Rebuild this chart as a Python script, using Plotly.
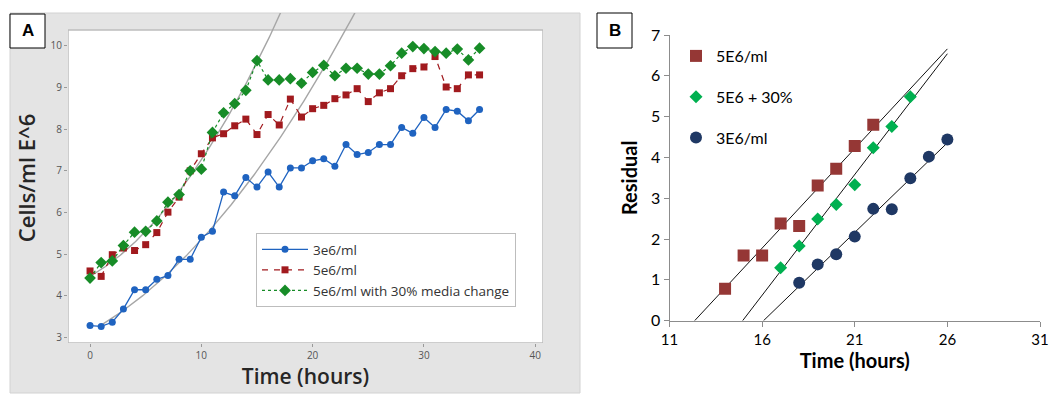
import numpy as np
import plotly.graph_objects as go

# ---------------- Panel A data ----------------
hours_a = list(range(36))
cells_3e6 = [3.29, 3.27, 3.37, 3.69, 4.15, 4.15, 4.40, 4.49, 4.88, 4.88,
             5.41, 5.55, 6.49, 6.40, 6.84, 6.61, 6.97, 6.61, 7.07, 7.07,
             7.24, 7.29, 7.11, 7.63, 7.39, 7.44, 7.63, 7.63, 8.04, 7.90,
             8.28, 8.04, 8.47, 8.43, 8.20, 8.47]
cells_5e6 = [4.60, 4.47, 4.99, 5.15, 5.09, 5.23, 5.52, 6.01, 6.37, 7.00,
             7.41, 7.79, 7.89, 8.08, 8.24, 7.87, 8.35, 8.10, 8.72, 8.29,
             8.49, 8.57, 8.73, 8.82, 8.97, 8.66, 8.87, 8.97, 9.28, 9.45,
             9.49, 9.74, 9.01, 8.97, 9.30, 9.30]
cells_5e6_30 = [4.43, 4.80, 4.84, 5.21, 5.53, 5.55, 5.80, 6.25, 6.43, 7.00,
                7.04, 7.92, 8.39, 8.61, 8.93, 9.64, 9.18, 9.18, 9.21, 9.10,
                9.36, 9.53, 9.28, 9.46, 9.46, 9.32, 9.32, 9.52, 9.82, 9.98,
                9.93, 9.86, 9.82, 9.92, 9.66, 9.94]
names_a = ["3e6/ml", "5e6/ml", "5e6/ml with 30% media change"]

# growth-curve fits: y = c0 + c1*(t-t0) + c2*(t-t0)^2
fit_5e6_coef = [4.47, 0.153, 0.0126]
fit_5e6_span = [0, 18]
fit_3e6_coef = [3.30, 0.162, 0.0073]
fit_3e6_span = [1, 25]

# ---------------- Panel B data ----------------
hours_b_5e6 = [14, 15, 16, 17, 18, 19, 20, 21, 22]
resid_5e6 = [0.78, 1.60, 1.60, 2.38, 2.32, 3.31, 3.72, 4.28, 4.80]
hours_b_5e6_30 = [17, 18, 19, 20, 21, 22, 23, 24]
resid_5e6_30 = [1.30, 1.83, 2.49, 2.85, 3.33, 4.24, 4.76, 5.49]
hours_b_3e6 = [18, 19, 20, 21, 22, 23, 24, 25, 26]
resid_3e6 = [0.93, 1.38, 1.63, 2.06, 2.74, 2.73, 3.49, 4.02, 4.44]
names_b = ["5E6/ml", "5E6 + 30%", "3E6/ml"]
ticks_b = [11, 16, 21, 26, 31]
trend_end_b = 26

# page is offset by the 8px body margin
OFF = 8
W, H = 1057 - OFF, 394 - OFF
def px_x(p):
    return (p - OFF) / W
def px_y(p):
    return 1 - (p - OFF) / H

FONT_A = "Open Sans"
FONT_B = "Lato"
BLUE_A, RED_A, GREEN_A = "#1f63c0", "#a11a1e", "#178c27"
RED_B, GREEN_B, NAVY_B = "#953735", "#00b050", "#1f3864"
AXIS_B = "#8c8c8c"

fig = go.Figure()

# ---- Panel A traces ----
def quad_curve(coef, span):
    t = np.linspace(span[0], span[1], 200)
    d = t - span[0]
    return t, coef[0] + coef[1] * d + coef[2] * d ** 2

for coef, span in [(fit_5e6_coef, fit_5e6_span), (fit_3e6_coef, fit_3e6_span)]:
    t, y = quad_curve(coef, span)
    fig.add_trace(go.Scatter(x=t, y=y, mode="lines", showlegend=False,
                             line=dict(color="#a6a6a6", width=1.4),
                             hoverinfo="skip", xaxis="x", yaxis="y"))

fig.add_trace(go.Scatter(x=hours_a, y=cells_3e6, name=names_a[0], mode="lines+markers",
                         line=dict(color=BLUE_A, width=1.3),
                         marker=dict(symbol="circle", size=7, color=BLUE_A),
                         xaxis="x", yaxis="y", legend="legend"))
fig.add_trace(go.Scatter(x=hours_a, y=cells_5e6, name=names_a[1], mode="lines+markers",
                         line=dict(color=RED_A, width=1.2, dash="6px,6px"),
                         marker=dict(symbol="square", size=7, color=RED_A),
                         xaxis="x", yaxis="y", legend="legend"))
fig.add_trace(go.Scatter(x=hours_a, y=cells_5e6_30, name=names_a[2], mode="lines+markers",
                         line=dict(color=GREEN_A, width=1.2, dash="3px,3px"),
                         marker=dict(symbol="diamond", size=9, color=GREEN_A),
                         xaxis="x", yaxis="y", legend="legend"))

# ---- Panel B traces ----
series_b = [(hours_b_5e6, resid_5e6, names_b[0], "square", 12, RED_B),
            (hours_b_5e6_30, resid_5e6_30, names_b[1], "diamond", 10, GREEN_B),
            (hours_b_3e6, resid_3e6, names_b[2], "circle", 12, NAVY_B)]
for xs, ys, nm, sym, sz, col in series_b:
    m, b = np.polyfit(xs, ys, 1)
    x0 = -b / m
    fig.add_trace(go.Scatter(x=[x0, trend_end_b], y=[m * x0 + b, m * trend_end_b + b],
                             mode="lines", showlegend=False, hoverinfo="skip",
                             line=dict(color="#111111", width=1),
                             xaxis="x2", yaxis="y2"))
for i, (xs, ys, nm, sym, sz, col) in enumerate(series_b):
    fig.add_trace(go.Scatter(x=xs, y=ys, name=nm, mode="markers",
                             marker=dict(symbol=sym, size=sz, color=col),
                             xaxis="x2", yaxis="y2", legend="legend2",
                             legendgroup=f"g{i}"))

# ---- shapes ----
shapes = [
    # grey Minitab frame of panel A
    dict(type="rect", xref="paper", yref="paper", x0=px_x(10), x1=px_x(580),
         y0=px_y(393), y1=px_y(13), fillcolor="#e4e4e4",
         line=dict(color="#d2d2d2", width=1), layer="below"),
    # white data region
    dict(type="rect", xref="x", yref="y", x0=-1.98, x1=40.7, y0=2.873, y1=10.376,
         fillcolor="white", line=dict(color="#bdbdbd", width=1.5), layer="below"),
    # panel labels
    dict(type="rect", xref="paper", yref="paper", x0=px_x(10), x1=px_x(45),
         y0=px_y(48), y1=px_y(14), fillcolor="white",
         line=dict(color="black", width=1)),
    dict(type="rect", xref="paper", yref="paper", x0=px_x(597), x1=px_x(632),
         y0=px_y(48), y1=px_y(13), fillcolor="white",
         line=dict(color="black", width=1)),
]
annotations = [
    dict(text="<b>A</b>", xref="paper", yref="paper", x=px_x(27.5), y=px_y(31),
         xanchor="center", yanchor="middle",
         showarrow=False, font=dict(family="Arial", size=17, color="black")),
    dict(text="<b>B</b>", xref="paper", yref="paper", x=px_x(614.5), y=px_y(30.5),
         xanchor="center", yanchor="middle",
         showarrow=False, font=dict(family="Arial", size=17, color="black")),
]

fig.update_layout(
    width=W, height=H,
    margin=dict(l=0, r=0, t=0, b=0),
    paper_bgcolor="white", plot_bgcolor="rgba(0,0,0,0)",
    shapes=shapes, annotations=annotations,
    xaxis=dict(domain=[px_x(68), px_x(543)], range=[-1.98, 40.7],
               tickvals=[0, 10, 20, 30, 40], ticks="outside", ticklen=3,
               tickcolor="#9a9a9a", showgrid=False, zeroline=False, showline=False,
               tickfont=dict(family=FONT_A, size=10, color="#555555"),
               title=dict(text="Time (hours)", standoff=2,
                          font=dict(family=FONT_A, size=21, color="#262626", weight=600)),
               automargin=False, anchor="y"),
    yaxis=dict(domain=[px_y(343), px_y(13)], range=[2.873, 10.784],
               tickvals=[3, 4, 5, 6, 7, 8, 9, 10], ticks="outside", ticklen=3,
               tickcolor="#9a9a9a", showgrid=False, zeroline=False, showline=False,
               tickfont=dict(family=FONT_A, size=10, color="#555555"),
               title=dict(text="Cells/ml E^6", standoff=8,
                          font=dict(family=FONT_A, size=22, color="#262626", weight=600)),
               automargin=False, anchor="x"),
    xaxis2=dict(domain=[px_x(669.5), px_x(1040)], range=[ticks_b[0], ticks_b[-1]],
                tickvals=ticks_b, ticks="outside", ticklen=5,
                tickcolor=AXIS_B, showline=True, linecolor=AXIS_B, linewidth=1,
                showgrid=False, zeroline=False, ticklabeloverflow="allow",
                tickfont=dict(family=FONT_B, size=15, color="black"),
                title=dict(text="<b>Time (hours)</b>", standoff=4,
                           font=dict(family=FONT_B, size=20, color="black")),
                automargin=False, anchor="y2"),
    yaxis2=dict(domain=[px_y(320.7), px_y(35)], range=[0, 7],
                tickvals=[0, 1, 2, 3, 4, 5, 6, 7], ticks="outside", ticklen=5,
                tickcolor=AXIS_B, showline=True, linecolor=AXIS_B, linewidth=1,
                showgrid=False, zeroline=False,
                tickfont=dict(family=FONT_B, size=16, color="black"),
                title=dict(text="<b>Residual</b>", standoff=8,
                           font=dict(family=FONT_B, size=20, color="black")),
                automargin=False, anchor="x2"),
    legend=dict(x=px_x(256), y=px_y(233), xanchor="left", yanchor="top",
                bgcolor="white", bordercolor="#bdbdbd", borderwidth=1,
                font=dict(family=FONT_A, size=13.5, color="#333333"),
                itemwidth=46, tracegroupgap=0),
    legend2=dict(x=px_x(676), y=px_y(39), xanchor="left", yanchor="top",
                 bgcolor="rgba(0,0,0,0)", borderwidth=0,
                 font=dict(family=FONT_B, size=16, color="black"),
                 itemwidth=30, tracegroupgap=17),
)

fig.write_html("out.html")
